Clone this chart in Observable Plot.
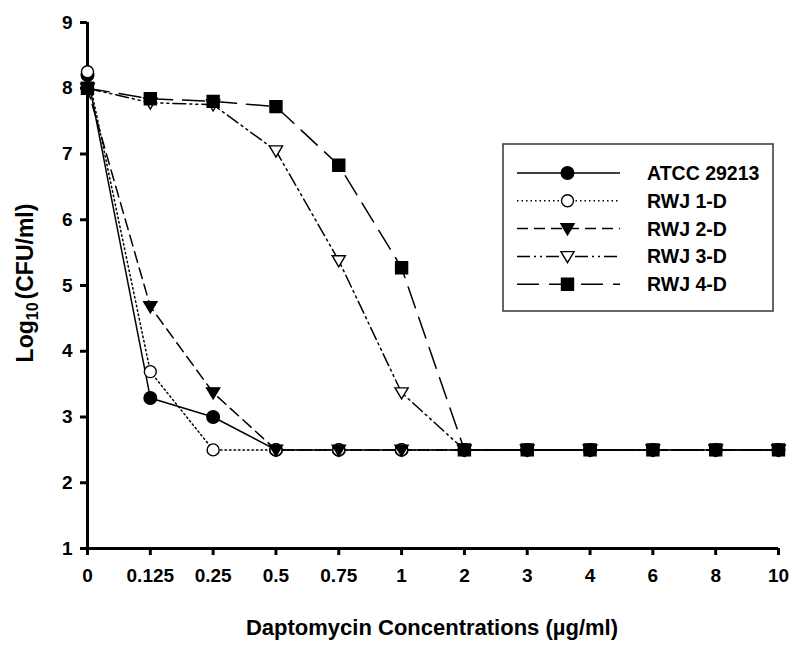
<!DOCTYPE html>
<html>
<head>
<meta charset="utf-8">
<script src="https://cdn.jsdelivr.net/npm/d3@7"></script>
<script src="https://cdn.jsdelivr.net/npm/@observablehq/plot@0.6"></script>
<style>
  body { margin: 0; background: #fff; }
  #wrap { position: relative; width: 800px; height: 650px; }
  #wrap svg { position: absolute; left: 0; top: 0; }
</style>
</head>
<body>
<div id="wrap"></div>
<script>
// ---- data ----
const concentrations = ["0", "0.125", "0.25", "0.5", "0.75", "1", "2", "3", "4", "6", "8", "10"];
const seriesNames = ["ATCC 29213", "RWJ 1-D", "RWJ 2-D", "RWJ 3-D", "RWJ 4-D"];
const atcc29213 = [8.2, 3.29, 3.0, 2.5, 2.5, 2.5, 2.5, 2.5, 2.5, 2.5, 2.5, 2.5];
const rwj1D = [8.25, 3.69, 2.5, 2.5, 2.5, 2.5, 2.5, 2.5, 2.5, 2.5, 2.5, 2.5];
const rwj2D = [8.0, 4.68, 3.37, 2.5, 2.5, 2.5, 2.5, 2.5, 2.5, 2.5, 2.5, 2.5];
const rwj3D = [8.0, 7.78, 7.75, 7.05, 5.38, 3.37, 2.5, 2.5, 2.5, 2.5, 2.5, 2.5];
const rwj4D = [8.0, 7.84, 7.8, 7.72, 6.83, 5.27, 2.5, 2.5, 2.5, 2.5, 2.5, 2.5];
const yTicks = [1, 2, 3, 4, 5, 6, 7, 8, 9];

// ---- symbols ----
function sym(fn) { return { draw(ctx, size) { fn(ctx, Math.sqrt(size / Math.PI)); } }; }
const symCircle = sym((c, r) => { c.moveTo(r, 0); c.arc(0, 0, r, 0, 2 * Math.PI); c.closePath(); });
const symSquare = sym((c, r) => { c.rect(-r, -r, 2 * r, 2 * r); });
const symTriDown = sym((c, r) => { c.moveTo(-r * 1.1, -r * 0.8); c.lineTo(r * 1.1, -r * 0.8); c.lineTo(0, r * 1.05); c.closePath(); });

const styles = [
  { values: atcc29213, dash: null, symbol: symCircle, fill: "black", r: 6.3 },
  { values: rwj1D, dash: "1.5,3", symbol: symCircle, fill: "white", r: 6 },
  { values: rwj2D, dash: "11,6", symbol: symTriDown, fill: "black", r: 6 },
  { values: rwj3D, dash: "13,4,2,4,2,4", symbol: symTriDown, fill: "white", r: 6 },
  { values: rwj4D, dash: "22,10", symbol: symSquare, fill: "black", r: 6 }
];

const series = seriesNames.map((name, i) => ({
  name, ...styles[i],
  data: concentrations.map((c, j) => ({ conc: c, value: styles[i].values[j] }))
}));

const font = "'Liberation Sans', Arial, Helvetica, sans-serif";

const marks = [];
for (const s of series) {
  marks.push(Plot.line(s.data, { x: "conc", y: "value", stroke: "black", strokeWidth: 1.5, strokeDasharray: s.dash ?? undefined }));
}
for (const s of series) {
  marks.push(Plot.dot(s.data, { x: "conc", y: "value", symbol: () => s.symbol, r: s.r, fill: s.fill, stroke: "black", strokeWidth: 1.4 }));
}

const plot = Plot.plot({
  width: 800,
  height: 650,
  marginLeft: 87,
  marginRight: 22,
  marginTop: 22,
  marginBottom: 102,
  style: { fontFamily: font, fontSize: "19px", fontWeight: "bold", background: "white", color: "black" },
  x: { type: "point", domain: concentrations, padding: 0, round: false, label: null },
  y: { domain: [1, 9], label: null },
  marks: [
    Plot.axisX({ tickSize: 7, tickPadding: 13, strokeWidth: 3, fontSize: 19, fontWeight: "bold", label: null }),
    Plot.axisY({ ticks: yTicks, tickSize: 7, tickPadding: 8, strokeWidth: 3, fontSize: 19, fontWeight: "bold", label: null }),
    Plot.ruleY([1], { stroke: "black", strokeWidth: 3 }),
    Plot.ruleX([concentrations[0]], { stroke: "black", strokeWidth: 3 }),
    ...marks
  ]
});

const wrap = document.getElementById("wrap");
wrap.appendChild(plot);

// force tick label font on every text the plot produced
const svg = d3.select(plot);
svg.selectAll("g, text")
  .filter(function () { return this.tagName === "text" || this.hasAttribute("font-size"); })
  .attr("font-size", 19).attr("font-weight", "bold").attr("font-family", font)
  .style("font-size", "19px").style("font-weight", "bold");

// axis titles
svg.append("text")
  .attr("x", 432).attr("y", 635)
  .attr("text-anchor", "middle")
  .style("font-family", font).style("font-size", "22px").style("font-weight", "bold")
  .text("Daptomycin Concentrations (µg/ml)");
const yt = svg.append("text")
  .attr("transform", "translate(33,283) rotate(-90)")
  .attr("text-anchor", "middle")
  .style("font-family", font).style("font-size", "23px").style("font-weight", "bold");
yt.append("tspan").text("Log");
yt.append("tspan").style("font-size", "16px").attr("dy", "5").text("10");
yt.append("tspan").attr("dy", "-5").attr("dx", "3").text("(CFU/ml)");

// legend overlay
const leg = d3.select(wrap).append("svg")
  .attr("width", 800).attr("height", 650)
  .style("pointer-events", "none");
leg.append("rect")
  .attr("x", 503).attr("y", 144).attr("width", 270).attr("height", 167)
  .attr("fill", "white").attr("stroke", "#333").attr("stroke-width", 1.5);
series.forEach((s, i) => {
  const y = 173 + i * 27.8;
  leg.append("line")
    .attr("x1", 517).attr("x2", 620).attr("y1", y).attr("y2", y)
    .attr("stroke", "black").attr("stroke-width", 1.5)
    .attr("stroke-dasharray", s.dash);
  leg.append("path")
    .attr("transform", `translate(567.5,${y})`)
    .attr("d", d3.symbol().type(s.symbol).size(Math.PI * s.r * s.r)())
    .attr("fill", s.fill).attr("stroke", "black").attr("stroke-width", 1.4);
  leg.append("text")
    .attr("x", 647).attr("y", y).attr("dy", "0.36em")
    .style("font-family", font).style("font-size", "19.5px").style("font-weight", "bold")
    .text(s.name);
});
</script>
</body>
</html>
